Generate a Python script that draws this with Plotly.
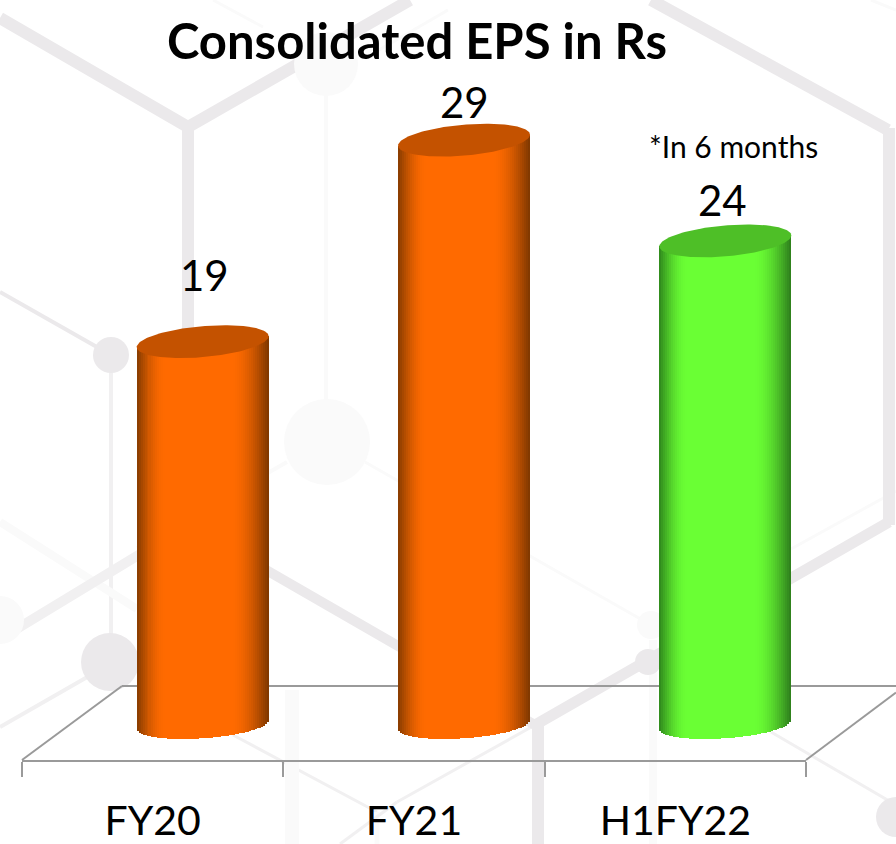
import numpy as np
import plotly.graph_objects as go

# ---- data ----
categories = ["FY20", "FY21", "H1FY22"]
eps_values = [19, 29, 24]
value_labels = ["19", "29", "24"]
title_text = "Consolidated EPS in Rs"
note_text = "*In 6 months"

# ---- page and plot geometry (pixels) ----
W, H = 896, 844
PLOT_L, PLOT_R, PLOT_B = 22, 806, 760
BASE_PX, PX_PER_UNIT = 724.5, 20.15
PX_PER_CAT = (PLOT_R - PLOT_L) / 3
DEPTH_SHIFT = 50 / PX_PER_CAT
HALF_W = 66
STRIP = 2
label_gaps = [67, 38, 41]
label_nudges = [2, 0, -3]

# ---- styles ----
orange = dict(edgeL=(135, 60, 0), edgeR=(125, 55, 0), mid=(255, 106, 0), cap="#c45200")
green = dict(edgeL=(46, 135, 28), edgeR=(45, 125, 28), mid=(106, 255, 52), cap="#4ebf27")
styles = [orange, orange, green]
FAINT, SOFT, STRONG = "#fafafa", "#f1f0f1", "#ebe9eb"

# background network: (x0, y0, x1, y1, width, colour)
bg_lines = [
    (0, 292, 111, 355, 4, STRONG), (111, 355, 111, 662, 4, SOFT),
    (326, 64, 326, 440, 4, FAINT), (213, 0, 263, 27, 3, FAINT),
    (448, 10, 367, 57, 3, FAINT), (871, 0, 896, 10, 3, FAINT),
    (0, 522, 137, 609, 8, FAINT), (0, 727, 110, 664, 4, SOFT),
    (287, 462, 137, 548, 4, FAINT), (365, 462, 651, 625, 3, FAINT),
    (233, 735, 377, 812, 3, SOFT), (377, 812, 377, 844, 5, FAINT),
    (397, 802, 535, 725, 3, SOFT), (397, 802, 340, 844, 3, SOFT),
    (292, 690, 292, 844, 14, FAINT), (653, 640, 653, 844, 8, FAINT),
    (771, 732, 896, 805, 3, SOFT), (791, 549, 896, 491, 3, FAINT),
    (0, 18, 188, 127, 12, STRONG), (188, 127, 410, 0, 12, STRONG),
    (188, 127, 188, 330, 12, STRONG), (651, 0, 888, 130, 12, STRONG),
    (889, 128, 889, 525, 12, STRONG), (889, 522, 535, 725, 11, STRONG),
    (538, 725, 538, 844, 12, STRONG), (0, 639, 188, 525, 10, SOFT),
    (188, 525, 535, 725, 10, STRONG),
]
# (cx, cy, r, colour)
bg_circles = [
    (326, 64, 32, FAINT), (327, 442, 43, FAINT), (111, 355, 18, STRONG),
    (110, 662, 29, STRONG), (648, 662, 13, STRONG), (651, 625, 14, FAINT),
    (0, 620, 24, FAINT), (896, 817, 20, STRONG),
]
# floor outline drawn behind the columns
floor_lines = [(122, 686, 896, 686), (22, 760, 122, 686), (806, 760, 896, 692.5)]


def px(x):
    return (x - PLOT_L) / (PLOT_R - PLOT_L)


def py(y):
    return 1 - y / PLOT_B


def shade(style, u):
    """Cylinder shading across the column, u from -1 to 1."""
    if u < -0.56:
        t = (u + 1) / 0.44
        a, b = style["edgeL"], style["mid"]
    elif u > 0.42:
        t = (1 - u) / 0.58
        a, b = style["edgeR"], style["mid"]
    else:
        return "rgb(%d,%d,%d)" % style["mid"]
    t = np.sin(t * np.pi / 2)
    return "rgb(%d,%d,%d)" % tuple(round(p + (q - p) * t) for p, q in zip(a, b))


fig = go.Figure()
shapes = []
for x0, y0, x1, y1, w, c in bg_lines:
    shapes.append(dict(type="line", xref="paper", yref="paper", x0=px(x0), y0=py(y0), x1=px(x1), y1=py(y1),
                       line=dict(color=c, width=w), layer="below"))
for cx, cy, r, c in bg_circles:
    shapes.append(dict(type="circle", xref="paper", yref="paper", x0=px(cx - r), x1=px(cx + r),
                       y0=py(cy - r), y1=py(cy + r), fillcolor=c, line=dict(width=0), layer="below"))
for x0, y0, x1, y1 in floor_lines:
    shapes.append(dict(type="line", xref="paper", yref="paper", x0=px(x0), y0=py(y0), x1=px(x1), y1=py(y1),
                       line=dict(color="#9a9a9a", width=2), layer="below"))

# column strips
n = 2 * HALF_W // STRIP
us = (np.arange(n) + 0.5) / n * 2 - 1
TOP_TILT, TOP_B, BOT_TILT, BOT_B = 5.5, 15.5, 4.5, 13.8
for i, (val, st) in enumerate(zip(eps_values, styles)):
    cx = i + DEPTH_SHIFT
    root = np.sqrt(1 - us ** 2)
    bottom = (BOT_TILT * us - BOT_B * root) / PX_PER_UNIT
    top = val + TOP_TILT * us / PX_PER_UNIT
    fig.add_trace(go.Bar(
        x=cx + us * HALF_W / PX_PER_CAT, y=top - bottom, base=bottom,
        width=STRIP / PX_PER_CAT,
        marker=dict(color=[shade(st, u) for u in us], line=dict(width=0)),
        showlegend=False, hoverinfo="skip",
    ))

# column caps
th = np.linspace(0, 2 * np.pi, 181)
for i, (val, st) in enumerate(zip(eps_values, styles)):
    u = np.cos(th)
    fig.add_trace(go.Scatter(
        x=i + DEPTH_SHIFT + u * HALF_W / PX_PER_CAT,
        y=val + (TOP_TILT * u + TOP_B * np.sin(th)) / PX_PER_UNIT,
        mode="lines", fill="toself", fillcolor=st["cap"], line=dict(width=0, color=st["cap"]),
        showlegend=False, hoverinfo="skip",
    ))

annotations = []
for i, (val, txt, gap, nudge) in enumerate(zip(eps_values, value_labels, label_gaps, label_nudges)):
    annotations.append(dict(x=i + DEPTH_SHIFT, y=val, xref="x", yref="y", text=txt, showarrow=False,
                            yshift=gap, xshift=nudge, xanchor="center", yanchor="middle",
                            font=dict(family="Lato", size=42, color="#000000")))
annotations.append(dict(x=px(733), y=py(146), xref="paper", yref="paper", text=note_text, showarrow=False,
                        xanchor="center", yanchor="middle",
                        font=dict(family="Lato", size=30, color="#000000")))

fig.update_layout(
    width=W, height=H,
    margin=dict(l=PLOT_L, r=W - PLOT_R, t=0, b=H - PLOT_B, pad=0, autoexpand=False),
    paper_bgcolor="#ffffff", plot_bgcolor="rgba(0,0,0,0)",
    barmode="overlay", bargap=0,
    title=dict(text=title_text, x=417 / W, y=1 - 42 / H, xanchor="center", yanchor="middle", xref="container",
               yref="container", font=dict(family="Lato", size=49, color="#000000", weight="bold")),
    xaxis=dict(
        range=[-0.5, 2.5], tickmode="array", tickvals=[0, 1, 2], ticktext=categories, automargin=False,
        ticks="", ticklabelstandoff=24, showgrid=False, zeroline=False,
        showline=True, linecolor="#9a9a9a", linewidth=2,
        tickfont=dict(family="Lato", size=41, color="#000000"),
        minor=dict(tickmode="array", tickvals=[-0.5, 0.5, 1.5, 2.5], ticks="outside", ticklen=15, tickwidth=2,
                   tickcolor="#9a9a9a", showgrid=False),
    ),
    yaxis=dict(range=[(BASE_PX - PLOT_B) / PX_PER_UNIT, BASE_PX / PX_PER_UNIT], visible=False, fixedrange=True,
               automargin=False),
    shapes=shapes, annotations=annotations,
)

fig.write_html("out.html", config=dict(displayModeBar=False),
               post_script="document.body.style.margin='0';document.documentElement.style.overflow='hidden';")
